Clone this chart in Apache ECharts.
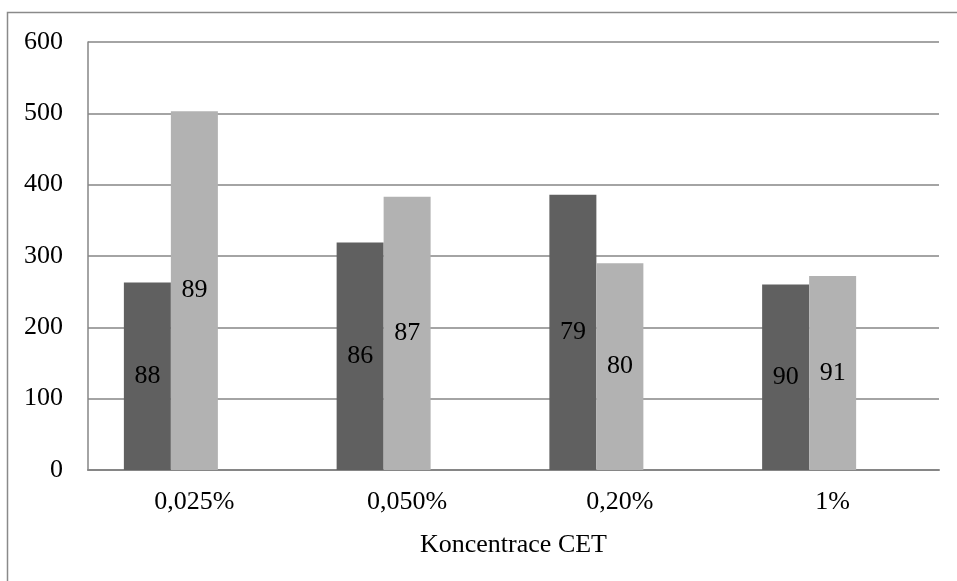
<!DOCTYPE html>
<html>
<head>
<meta charset="utf-8">
<style>
  html, body { margin: 0; padding: 0; background: #ffffff; }
  #chart { width: 957px; height: 581px; }
</style>
<script src="https://cdn.jsdelivr.net/npm/echarts@6/dist/echarts.min.js"></script>
</head>
<body>
<div id="chart"></div>
<script>
// Concentration groups on the x axis
const categories = ['0,025%', '0,050%', '0,20%', '1%'];
// Bar heights of the two series
const darkValues = [263, 319, 386, 260];
const lightValues = [503, 383, 290, 272];
// Third series slot is left empty in every group
const emptyValues = [null, null, null, null];
// Numbers printed inside each bar
const darkLabels = ['88', '86', '79', '90'];
const lightLabels = ['89', '87', '80', '91'];
// Value axis ticks
const yTicks = [0, 100, 200, 300, 400, 500, 600];

const FONT = '"Liberation Serif", "Times New Roman", serif';
const FONT_SIZE = 26;

const chart = echarts.init(document.getElementById('chart'), null, { renderer: 'canvas' });

function barSeries(values, labels, color) {
  return {
    type: 'bar',
    data: values,
    barWidth: 47,
    barGap: '0%',
    itemStyle: { color: color },
    label: {
      show: !!labels,
      position: 'inside',
      color: '#000000',
      fontFamily: FONT,
      fontSize: FONT_SIZE,
      formatter: p => (labels ? labels[p.dataIndex] : '')
    },
    emphasis: { disabled: true },
    silent: true,
    animation: false
  };
}

chart.setOption({
  animation: false,
  backgroundColor: '#ffffff',
  graphic: [{
    type: 'rect',
    shape: { x: 7.5, y: 12.5, width: 960, height: 600 },
    style: { fill: 'none', stroke: '#8a8a8a', lineWidth: 1.5 },
    silent: true
  }],
  grid: { left: 88, right: 18, top: 42, bottom: 111, containLabel: false },
  xAxis: {
    type: 'category',
    data: categories,
    name: 'Koncentrace CET',
    nameLocation: 'middle',
    nameGap: 62,
    nameTextStyle: { color: '#000000', fontFamily: FONT, fontSize: FONT_SIZE },
    axisTick: { show: false },
    axisLine: { show: true, lineStyle: { color: '#868686', width: 2 } },
    axisLabel: { color: '#000000', fontFamily: FONT, fontSize: FONT_SIZE, margin: 19 }
  },
  yAxis: {
    type: 'value',
    min: yTicks[0],
    max: yTicks[yTicks.length - 1],
    interval: 100,
    axisLine: { show: true, lineStyle: { color: '#868686', width: 1.5 } },
    axisTick: { show: false },
    splitLine: { show: true, lineStyle: { color: '#868686', width: 1.5 } },
    axisLabel: { color: '#000000', fontFamily: FONT, fontSize: FONT_SIZE, margin: 25 }
  },
  series: [
    barSeries(darkValues, darkLabels, '#606060'),
    barSeries(lightValues, lightLabels, '#b2b2b2'),
    barSeries(emptyValues, null, '#ffffff')
  ]
});
</script>
</body>
</html>
